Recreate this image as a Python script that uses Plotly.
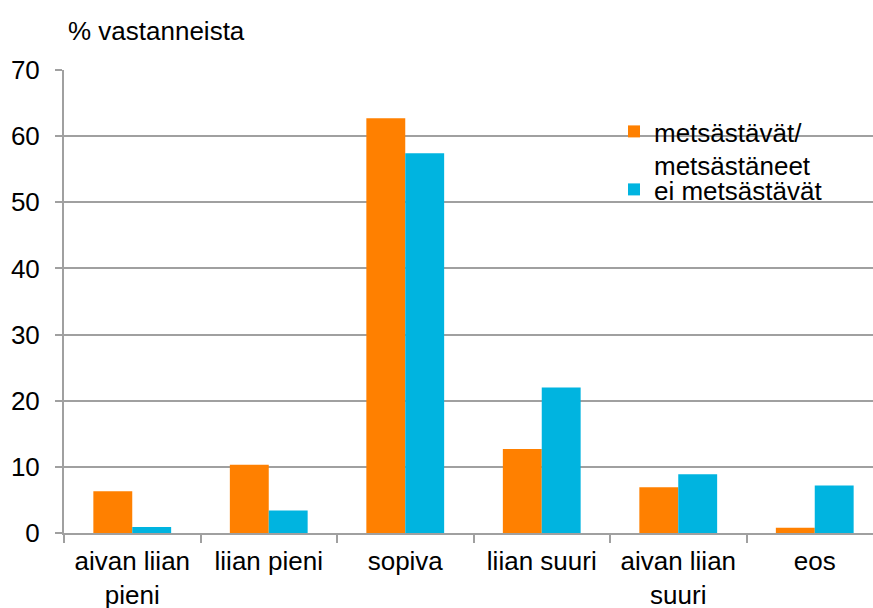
import plotly.graph_objects as go

categories = ["aivan liian<br>pieni", "liian pieni", "sopiva", "liian suuri", "aivan liian<br>suuri", "eos"]
series_names = ["metsästävät/<br>metsästäneet", "ei metsästävät"]
hunters = [6.3, 10.3, 62.7, 12.7, 6.9, 0.8]
non_hunters = [0.9, 3.4, 57.4, 22.0, 8.9, 7.2]
y_ticks = [0, 10, 20, 30, 40, 50, 60, 70]
y_title = "% vastanneista"

FONT = "Liberation Sans, Arial, sans-serif"
W, H = 873, 608
L, R, T, B = 64, 0, 70, 75
PW, PH = W - L - R, H - T - B


def px_x(x):
    return (x - L) / PW


def px_y(y):
    return 1 - (y - T) / PH


fig = go.Figure()
fig.add_trace(go.Bar(x=categories, y=hunters, name=series_names[0], legend="legend",
                     marker=dict(color="#FF8000", line=dict(width=0))))
fig.add_trace(go.Bar(x=categories, y=non_hunters, name=series_names[1], legend="legend2",
                     marker=dict(color="#00B4E0", line=dict(width=0))))

legend_common = dict(xanchor="left", yanchor="top", bgcolor="rgba(0,0,0,0)",
                     font=dict(size=26), valign="top", itemwidth=30)

fig.update_layout(
    width=W, height=H,
    margin=dict(l=L, r=R, t=T, b=B, autoexpand=False),
    paper_bgcolor="white", plot_bgcolor="white",
    font=dict(family=FONT, size=26, color="#000000"),
    barmode="group", bargap=0.43, bargroupgap=0,
    showlegend=True,
    legend=dict(x=px_x(614), y=px_y(108), **legend_common),
    legend2=dict(x=px_x(614), y=px_y(166), **legend_common),
    xaxis=dict(range=[-0.5, 5.5 - 10 / 136.5], tickson="boundaries", ticks="outside",
               ticklen=8, tickcolor="#A0A0A0", tickwidth=2, ticklabelstandoff=4,
               showline=True, linecolor="#A0A0A0", linewidth=2,
               showgrid=False, tickfont=dict(size=26), fixedrange=True),
    yaxis=dict(range=[0, 70], tickvals=y_ticks, ticks="outside", ticklen=7,
               tickcolor="#A0A0A0", tickwidth=2, ticklabelstandoff=10,
               showline=True, linecolor="#A0A0A0", linewidth=2,
               showgrid=True, gridcolor="#A0A0A0", gridwidth=2,
               zeroline=False, tickfont=dict(size=26), fixedrange=True),
    shapes=[dict(type="rect", xref="paper", yref="paper", layer="between",
                 x0=px_x(603), x1=px_x(852), y0=px_y(112), y1=px_y(212),
                 fillcolor="white", line=dict(width=0))],
    annotations=[dict(text=y_title, xref="paper", yref="paper",
                      x=px_x(66), y=(H - B - 31) / PH,
                      xanchor="left", yanchor="middle", showarrow=False,
                      font=dict(size=26, family=FONT))],
)

fig.write_html("out.html", config={"displayModeBar": False},
               post_script="document.body.style.margin='0';document.body.style.overflow='hidden';")
